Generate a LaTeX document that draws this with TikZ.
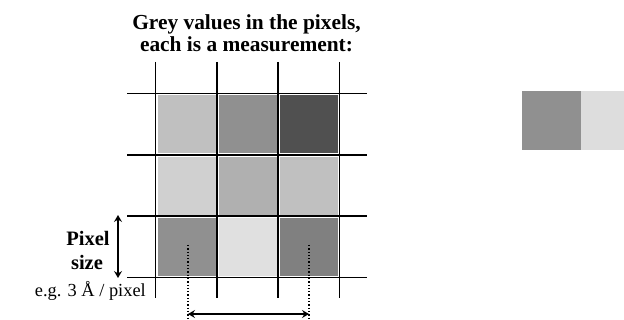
\documentclass[tikz,border=0pt]{standalone}
\usepackage{fontspec}
\setmainfont{Liberation Serif}
\usetikzlibrary{arrows.meta}
\begin{document}
\begin{tikzpicture}[x=1pt,y=-1pt,
  gridline/.style={line width=1.6pt,black},
  dimarrow/.style={line width=1.7pt,{Stealth[length=7pt,width=8pt,inset=2.5pt]}-{Stealth[length=7pt,width=8pt,inset=2.5pt]}},
  dotline/.style={line width=1.3pt,dotted},
  ttl/.style={font=\fontsize{21.4}{22}\selectfont\bfseries,inner sep=0pt,anchor=base},
  lbl/.style={font=\fontsize{20.5}{22}\selectfont\bfseries,inner sep=0pt,anchor=base},
  note/.style={font=\fontsize{18.4}{20}\selectfont,inner sep=0pt,anchor=base east}]
\useasboundingbox (0,0) rectangle (624,320);
% cells
\foreach \x/\y/\c in {0/0/192,1/0/144,2/0/80,0/1/208,1/1/176,2/1/192,0/2/144,1/2/224,2/2/128}{
  \definecolor{cc}{RGB}{\c,\c,\c}
  \fill[cc] ({157.5+61.3*\x},{95.5+61.3*\y}) rectangle ++(58,58);
}
% grid lines
\foreach \x in {155.5,216.8,278.1,339.4}{
  \draw[gridline] (\x,62) -- (\x,298);
}
\foreach \y in {93.5,154.8,216.1,277.4}{
  \draw[gridline] (127,\y) -- (367,\y);
}
% title
\node[ttl] (title1) at (246.5,29.5) {Grey values in the pixels,};
\node[ttl] (title2) at (246.5,51.7) {each is a measurement:};
% pixel size
\coordinate (ps1) at (118,215);
\coordinate (ps2) at (118,278);
\draw[dimarrow] (ps1) -- (ps2);
\node[lbl] (pix) at (88,245.7) {Pixel};
\node[lbl] (size) at (87,270) {size};
\node[note] (eg) at (146,297) {e.g. 3 Å / pixel};
% dotted lines and arrow
\coordinate (d1t) at (188,245);
\coordinate (d1b) at (188,320);
\coordinate (d2t) at (309,245);
\coordinate (d2b) at (309,320);
\draw[dotline] (d1t) -- (d1b);
\draw[dotline] (d2t) -- (d2b);
\coordinate (a1) at (188,314);
\coordinate (a2) at (309,314);
\draw[dimarrow] (a1) -- (a2);
% right squares
\fill[fill={rgb,255:red,144;green,144;blue,144}] (522,91) rectangle (581,150);
\fill[fill={rgb,255:red,221;green,221;blue,221}] (581,91) rectangle (624,150);
\end{tikzpicture}
\end{document}
